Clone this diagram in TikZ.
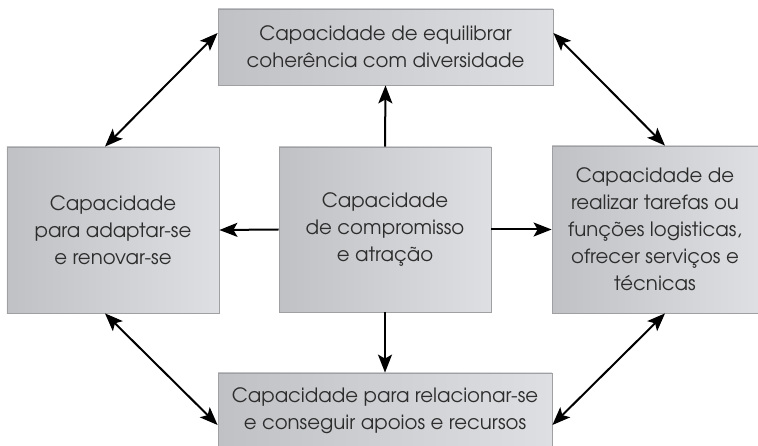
\documentclass[tikz,border=0pt]{standalone}
\usepackage{fontspec}
\setmainfont{texgyreadventor-regular.otf}
\usetikzlibrary{arrows.meta}
\definecolor{boxdark}{RGB}{192,193,197}
\definecolor{boxlight}{RGB}{222,223,226}
\definecolor{boxline}{RGB}{160,160,163}
\definecolor{txt}{RGB}{45,45,45}
\tikzset{
  capbox/.style={rectangle, draw=boxline, line width=0.8bp, left color=boxdark, right color=boxlight,
    align=center, text=txt, inner sep=0pt, font=\fontsize{19.8}{27}\selectfont},
  tip/.tip={Stealth[length=18bp,width=14bp,inset=4bp]},
  arr/.style={line width=2bp, -tip},
  darr/.style={line width=2bp, tip-tip}
}
\begin{document}
\begin{tikzpicture}[x=1bp,y=-1bp]
\useasboundingbox (0,0) rectangle (758,446);
\node[capbox, minimum width=335bp, minimum height=76bp] (T) at (385.5,47) {Capacidade de equilibrar\\coherência com diversidade};
\node[capbox, minimum width=212bp, minimum height=166bp] (L) at (113,230) {Capacidade\\para adaptar-se\\e renovar-se};
\node[capbox, minimum width=212bp, minimum height=165bp] (C) at (385,229.5) {Capacidade\\de compromisso\\e atração};
\node[capbox, minimum width=206bp, minimum height=167bp] (R) at (655,229.5) {Capacidade de\\realizar tarefas ou\\funções logisticas,\\ofrecer serviços e\\técnicas};
\node[capbox, minimum width=334bp, minimum height=76bp] (B) at (385,411) {Capacidade para relacionar-se\\e conseguir apoios e recursos};
\draw[arr] (C.north) -- (T.south);
\draw[arr] (C.west) -- (L.east);
\draw[arr] (C.east) -- (R.west);
\draw[arr] (C.south) -- (B.north);
\draw[darr] ([xshift=-8bp]L.north) -- ([yshift=14bp]T.west);
\draw[darr] ([yshift=14bp]T.east) -- ([xshift=10bp]R.north);
\draw[darr] ([xshift=-8bp]L.south) -- ([yshift=-14bp]B.west);
\draw[darr] ([yshift=-14bp]B.east) -- ([xshift=10bp]R.south);
\end{tikzpicture}
\end{document}
